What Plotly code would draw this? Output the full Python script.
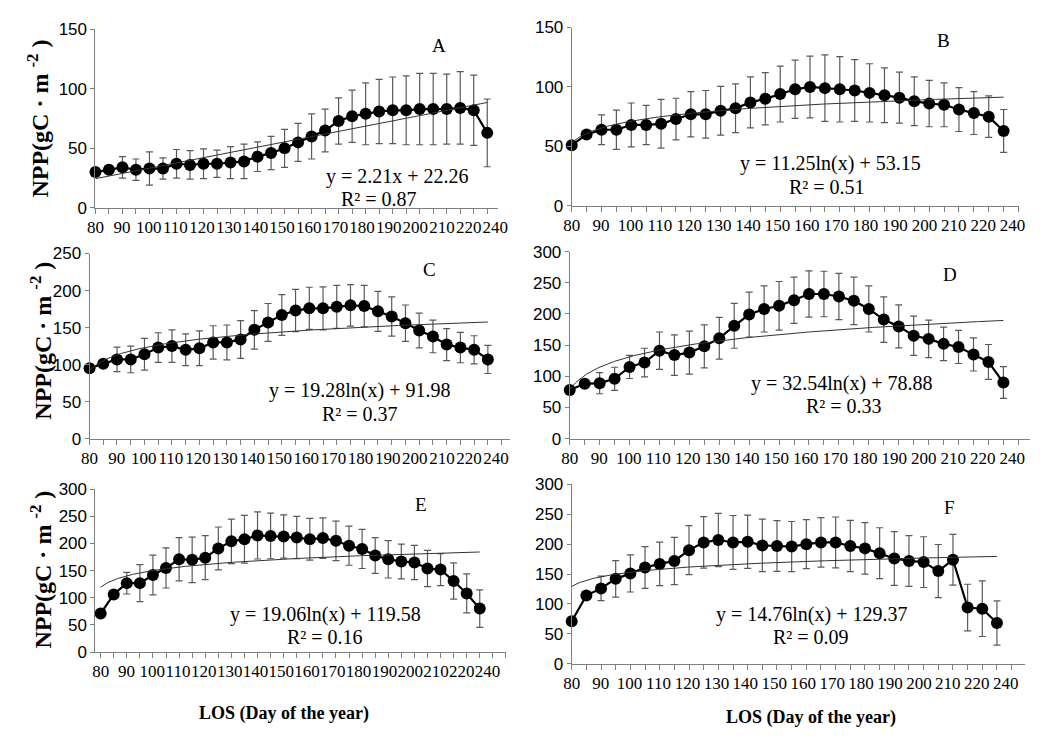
import numpy as np
import plotly.graph_objects as go

# ---------------- data ----------------
days = list(range(80, 230, 5))  # 30 LOS classes: 80 ... 225
x_tick_labels = ["80", "90", "100", "110", "120", "130", "140", "150", "160",
                 "170", "180", "190", "200", "210", "220", "240"]

panel_letters = ["A", "B", "C", "D", "E", "F"]

npp_A = [30, 32, 34, 32, 33, 33, 37, 36, 37, 37, 38, 39, 43, 46, 50,
         55, 60, 65, 73, 77, 79, 81, 82, 82, 83, 83, 83, 84, 82, 63]
err_A = [3, 3, 9, 9, 14, 9, 12, 12, 12.5, 11.5, 13.5, 14.5, 12.5, 14, 16,
         16, 19, 18, 19.5, 22, 26, 27, 28, 29, 30, 30, 29.5, 30.5, 29.5, 28.5]

npp_B = [51, 60, 64, 64, 68, 68, 69, 73, 77, 77, 80, 82, 87, 90, 94,
         98, 100, 99, 98, 97, 95, 93, 91, 88, 86, 85, 81, 78, 75, 63]
err_B = [2, 2, 12.5, 16.5, 18.5, 16.5, 20.5, 17.5, 19, 20, 20.5, 20.5, 21.5, 22, 23.5,
         24.5, 26, 28, 27.5, 26, 24.5, 23, 21.5, 20.5, 19.5, 18.5, 18.5, 18, 17.5, 18]

npp_C = [95, 101, 107, 107, 114, 123, 125, 120, 122, 130, 130, 134, 147, 157, 167,
         173, 176, 176, 178, 180, 179, 172, 165, 156, 146, 138, 127, 123, 120, 107]
err_C = [3, 3, 16.5, 18, 21.5, 20, 22, 21.5, 23.5, 22.5, 23.5, 25.5, 26, 25.5, 27.5,
         28.5, 28.5, 29, 29, 28, 28, 27, 26.5, 24.5, 23.5, 22, 21.5, 20.5, 19, 19]

npp_D = [78, 88, 89, 96, 115, 122, 141, 134, 138, 148, 161, 181, 199, 208, 213,
         222, 232, 232, 228, 221, 208, 191, 180, 165, 160, 152, 147, 135, 123, 90]
err_D = [4, 4, 17, 18.5, 18.5, 23, 30, 32.5, 34.5, 34.5, 33.5, 36, 36, 37, 39,
         37, 37, 36.5, 37, 38, 37, 36.5, 34.5, 31.5, 30, 27, 26.5, 26.5, 28, 25.5]

npp_E = [71, 106, 127, 127, 142, 155, 171, 170, 174, 191, 204, 208, 215, 214, 213,
         211, 208, 210, 205, 196, 190, 178, 171, 167, 165, 154, 152, 131, 108, 80]
err_E = [4, 4, 20, 34, 36.5, 37, 40, 42, 40.5, 39.5, 41, 44, 43.5, 42, 40,
         39, 38.5, 37.5, 36.5, 36, 36, 33, 34.5, 32, 31.5, 33.5, 29.5, 33.5, 36, 34.5]

npp_F = [71, 114, 126, 142, 151, 161, 167, 172, 190, 203, 207, 203, 204, 198, 197,
         196, 200, 203, 203, 197, 193, 185, 176, 172, 170, 155, 174, 94, 92, 68]
err_F = [4, 4, 20.5, 30.5, 31, 35, 36.5, 39.5, 41, 43, 44.5, 45, 44.5, 44, 42.5,
         42, 41, 41.5, 42.5, 43, 43, 42.5, 45, 42.5, 42.5, 44.5, 42.5, 39, 46.5, 37]

# trend-line coefficients as printed in each panel (x = class index 1..30)
fit_kind = ["lin", "log", "log", "log", "log", "log"]
fit_a = [2.21, 11.25, 19.28, 32.54, 19.06, 14.76]
fit_b = [22.26, 53.15, 91.98, 78.88, 119.58, 129.37]
eq_text = ["y = 2.21x + 22.26", "y = 11.25ln(x) + 53.15", "y = 19.28ln(x) + 91.98",
           "y = 32.54ln(x) + 78.88", "y = 19.06ln(x) + 119.58", "y = 14.76ln(x) + 129.37"]
r2_text = ["R² = 0.87", "R² = 0.51", "R² = 0.37", "R² = 0.33", "R² = 0.16", "R² = 0.09"]

y_max = [150, 150, 250, 300, 300, 300]

npp_all = [npp_A, npp_B, npp_C, npp_D, npp_E, npp_F]
err_all = [err_A, err_B, err_C, err_D, err_E, err_F]

# ---------------- layout geometry (pixels) ----------------
W, H = 1057, 738
# x0, x1, ytop, ybottom
boxes = [(88, 498, 21, 204), (573, 1028, 19, 202),
         (82, 510, 251, 441), (571, 1040, 249, 441),
         (88, 506, 493, 660), (573, 1035, 488, 672)]
x_ranges = [(80, 229), (80, 230), (80, 233), (80, 234), (78, 235), (80, 234.7)]
eq_pos = [(396, 172), (837, 159), (357, 392), (848, 384), (322, 621), (817, 621)]
r2_pos = [(377, 195), (833, 183), (357, 416), (850, 408), (322, 645), (817, 645)]
letter_pos = [(438, 37), (952, 32), (428, 267), (958, 273), (420, 509), (958, 512)]
ytitle_pos = [(30, 112), (33, 340), (33, 575)]
xtitle_pos = [(280, 723), (817, 727)]

last_label_day = 228.0
label_step = (last_label_day - days[0]) / (len(x_tick_labels) - 1)
label_pos = [days[0] + i * label_step for i in range(len(x_tick_labels))]

AX = "#7f7f7f"
SERIF = "Liberation Serif, Times New Roman, serif"
SANS = "Liberation Sans, Arial, sans-serif"

fig = go.Figure()
annotations = []

for k in range(6):
    n = "" if k == 0 else str(k + 1)
    xa, ya = "x" + n, "y" + n
    npp, err = npp_all[k], err_all[k]

    fig.add_trace(go.Scatter(
        x=days, y=npp, mode="lines+markers", xaxis=xa, yaxis=ya,
        line=dict(color="black", width=2.2),
        marker=dict(color="black", size=12),
        error_y=dict(type="data", array=err, visible=True, color="#595959",
                     thickness=1.2, width=3.5),
        cliponaxis=False, showlegend=False))

    idx = np.linspace(1, len(days), 300)
    if fit_kind[k] == "lin":
        yt = fit_a[k] * idx + fit_b[k]
    else:
        yt = fit_a[k] * np.log(idx) + fit_b[k]
    xt = days[0] + (idx - 1) * (days[1] - days[0])
    fig.add_trace(go.Scatter(x=xt, y=yt, mode="lines", xaxis=xa, yaxis=ya,
                             line=dict(color="#333333", width=1),
                             cliponaxis=False, showlegend=False, hoverinfo="skip"))

    x0, x1, yt_px, yb_px = boxes[k]
    fig.layout["xaxis" + n] = dict(
        domain=[x0 / W, x1 / W], range=list(x_ranges[k]), anchor=ya,
        showline=True, linecolor=AX, linewidth=1, showgrid=False, zeroline=False,
        tickmode="array", tickvals=label_pos, ticktext=x_tick_labels, tickangle=0,
        ticks="outside", ticklen=4, tickcolor="rgba(0,0,0,0)",
        tickfont=dict(family=SERIF, size=17, color="black"),
        minor=dict(tickmode="array", tickvals=list(range(80, 236, 5)),
                   ticks="outside", ticklen=5, tickwidth=1, tickcolor=AX,
                   showgrid=False))
    fig.layout["yaxis" + n] = dict(
        domain=[1 - yb_px / H, 1 - yt_px / H], range=[0, y_max[k]], anchor=xa,
        dtick=50, showline=True, linecolor=AX, linewidth=1, showgrid=False,
        zeroline=False, ticks="outside", ticklen=4, tickcolor=AX,
        tickfont=dict(family=SANS, size=17, color="black"))

    for (px, py), txt, size in [(eq_pos[k], eq_text[k], 20),
                                (r2_pos[k], r2_text[k], 20),
                                (letter_pos[k], panel_letters[k], 19)]:
        annotations.append(dict(x=px / W, y=1 - py / H, xref="paper", yref="paper",
                                text=txt, showarrow=False, xanchor="center",
                                yanchor="middle",
                                font=dict(family=SERIF, size=size, color="black")))

for px, py in ytitle_pos:
    annotations.append(dict(x=px / W, y=1 - py / H, xref="paper", yref="paper",
                            text="<b>NPP(gC · m <sup>-2</sup> )</b>", textangle=-90,
                            showarrow=False, xanchor="center", yanchor="middle",
                            font=dict(family=SERIF, size=24, color="black")))
for px, py in xtitle_pos:
    annotations.append(dict(x=px / W, y=1 - py / H, xref="paper", yref="paper",
                            text="<b>LOS (Day of the year)</b>",
                            showarrow=False, xanchor="center", yanchor="middle",
                            font=dict(family=SERIF, size=18, color="black")))

fig.update_layout(width=W, height=H, margin=dict(l=0, r=0, t=0, b=0),
                  paper_bgcolor="white", plot_bgcolor="white",
                  annotations=annotations, showlegend=False)

fig.write_html("out.html")
